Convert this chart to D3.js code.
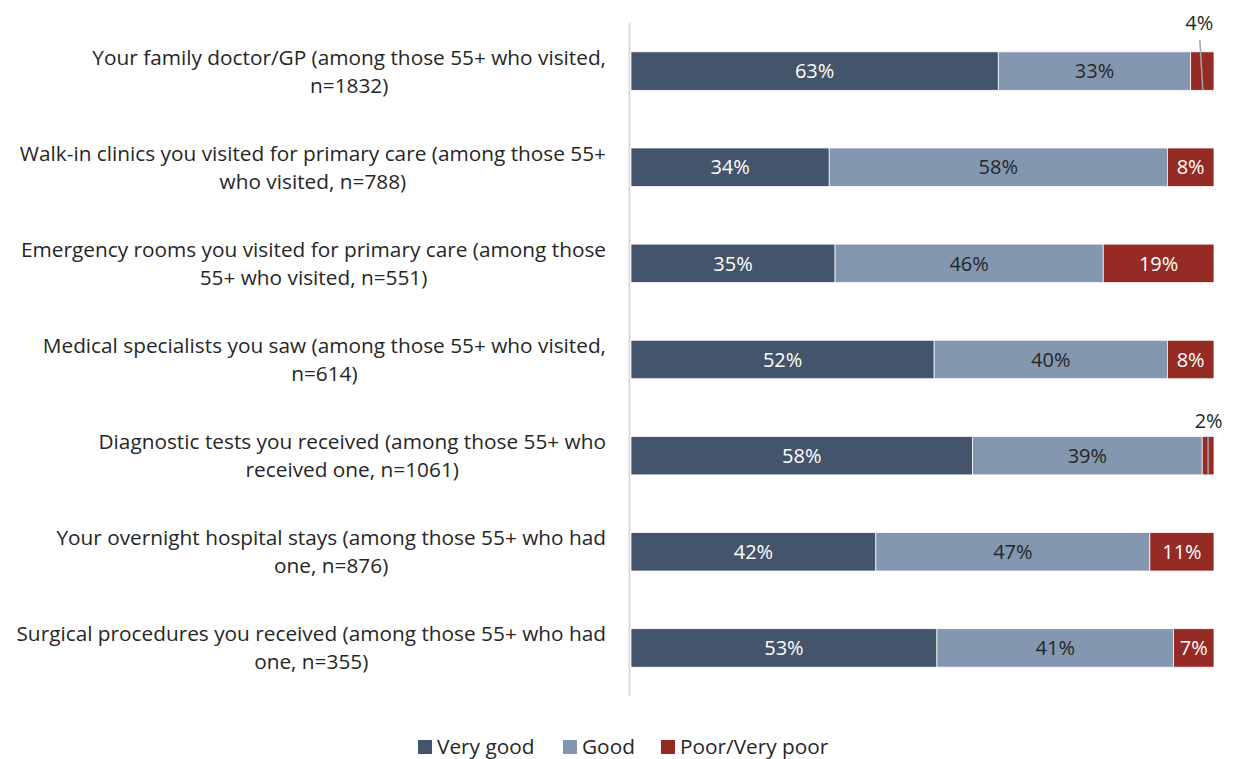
<!DOCTYPE html>
<html><head><meta charset="utf-8">
<script src="https://cdn.jsdelivr.net/npm/d3@7"></script>
<style>body{margin:0;background:#fff;} svg{display:block;font-family:"Open Sans", Lato, sans-serif;}</style>
</head><body>
<svg id="c" width="1233" height="759"></svg>
<script>
const categories = [
  ["Your family doctor/GP (among those 55+ who visited,", "n=1832)"],
  ["Walk-in clinics you visited for primary care (among those 55+", "who visited, n=788)"],
  ["Emergency rooms you visited for primary care (among those", "55+ who visited, n=551)"],
  ["Medical specialists you saw (among those 55+ who visited,", "n=614)"],
  ["Diagnostic tests you received (among those 55+ who", "received one, n=1061)"],
  ["Your overnight hospital stays (among those 55+ who had", "one, n=876)"],
  ["Surgical procedures you received (among those 55+ who had", "one, n=355)"]
];
const veryGood = [63, 34, 35, 52, 58, 42, 53];
const good     = [33, 58, 46, 40, 39, 47, 41];
const poor     = [4, 8, 19, 8, 2, 11, 7];
const seriesNames = ["Very good", "Good", "Poor/Very poor"];
const colors = ["#44546a", "#8497b0", "#962a24"];
const labelColors = ["#ffffff", "#262626", "#ffffff"];
const FS = 20.8;   // category / legend text
const DFS = 20;    // data labels

const svg = d3.select("#c");
const x = d3.scaleLinear().domain([0, 1]).range([631, 1214]);
const y = d3.scaleBand().domain(d3.range(categories.length)).range([23, 696]).paddingInner(0.6).paddingOuter(0.3);

const series = [veryGood, good, poor];
const rows = categories.map((c, i) => {
  const vals = series.map(s => s[i]);
  const tot = d3.sum(vals);
  let acc = 0;
  return vals.map((v, k) => { const seg = {i, k, v, x0: acc / tot, x1: (acc + v) / tot}; acc += v; return seg; });
});

// axis line
svg.append("line").attr("x1", 629.5).attr("x2", 629.5).attr("y1", 23).attr("y2", 696)
  .attr("stroke", "#d9d9d9").attr("stroke-width", 2);

const segs = rows.flat();
svg.selectAll("rect.seg").data(segs).join("rect").attr("class", "seg")
  .attr("x", d => x(d.x0)).attr("width", d => x(d.x1) - x(d.x0))
  .attr("y", d => y(d.i)).attr("height", y.bandwidth())
  .attr("fill", d => colors[d.k]).attr("stroke", "#ffffff").attr("stroke-width", 0.75);

// inside labels
segs.filter(d => d.v >= 5).forEach(d => {
  svg.append("text").attr("x", (x(d.x0) + x(d.x1)) / 2).attr("y", y(d.i) + y.bandwidth() / 2)
    .attr("dy", "0.36em").attr("text-anchor", "middle").attr("font-size", DFS)
    .attr("fill", labelColors[d.k]).text(d.v + "%");
});
// outside labels for small segments
segs.filter(d => d.v < 5).forEach(d => {
  const cx = (x(d.x0) + x(d.x1)) / 2;
  const top = y(d.i), bot = y(d.i) + y.bandwidth();
  if (d.i === 0) {
    svg.append("line").attr("x1", cx - 2.5).attr("y1", top - 12).attr("x2", cx + 0.5).attr("y2", bot)
      .attr("stroke", "#a6a6a6").attr("stroke-width", 1.5);
    svg.append("text").attr("x", cx - 3).attr("y", top - 29).attr("dy", "0.36em")
      .attr("text-anchor", "middle").attr("font-size", DFS).attr("fill", "#262626").text(d.v + "%");
  } else {
    svg.append("line").attr("x1", cx).attr("y1", top).attr("x2", cx).attr("y2", bot)
      .attr("stroke", "#a6a6a6").attr("stroke-width", 1.5);
    svg.append("text").attr("x", cx + 0.5).attr("y", top - 16).attr("dy", "0.36em")
      .attr("text-anchor", "middle").attr("font-size", DFS).attr("fill", "#262626").text(d.v + "%");
  }
});

// category labels: block right-aligned at 606, lines centered within block
categories.forEach((lines, i) => {
  const cy = y(i) + y.bandwidth() / 2;
  const g = svg.append("g");
  const ts = lines.map((ln, j) => g.append("text").attr("text-anchor", "middle").attr("font-size", FS)
    .attr("fill", "#262626").attr("y", cy + (j - (lines.length - 1) / 2) * 28).attr("dy", "0.36em").text(ln));
  const w = d3.max(ts, t => t.node().getComputedTextLength());
  ts.forEach(t => t.attr("x", 606 - w / 2));
});

// legend
const legendX = [418, 563, 661];
seriesNames.forEach((n, k) => {
  svg.append("rect").attr("x", legendX[k]).attr("y", 740).attr("width", 14).attr("height", 14).attr("fill", colors[k]);
  svg.append("text").attr("x", legendX[k] + 19).attr("y", 747).attr("dy", "0.36em")
    .attr("font-size", FS).attr("fill", "#262626").text(n);
});
</script>
</body></html>
